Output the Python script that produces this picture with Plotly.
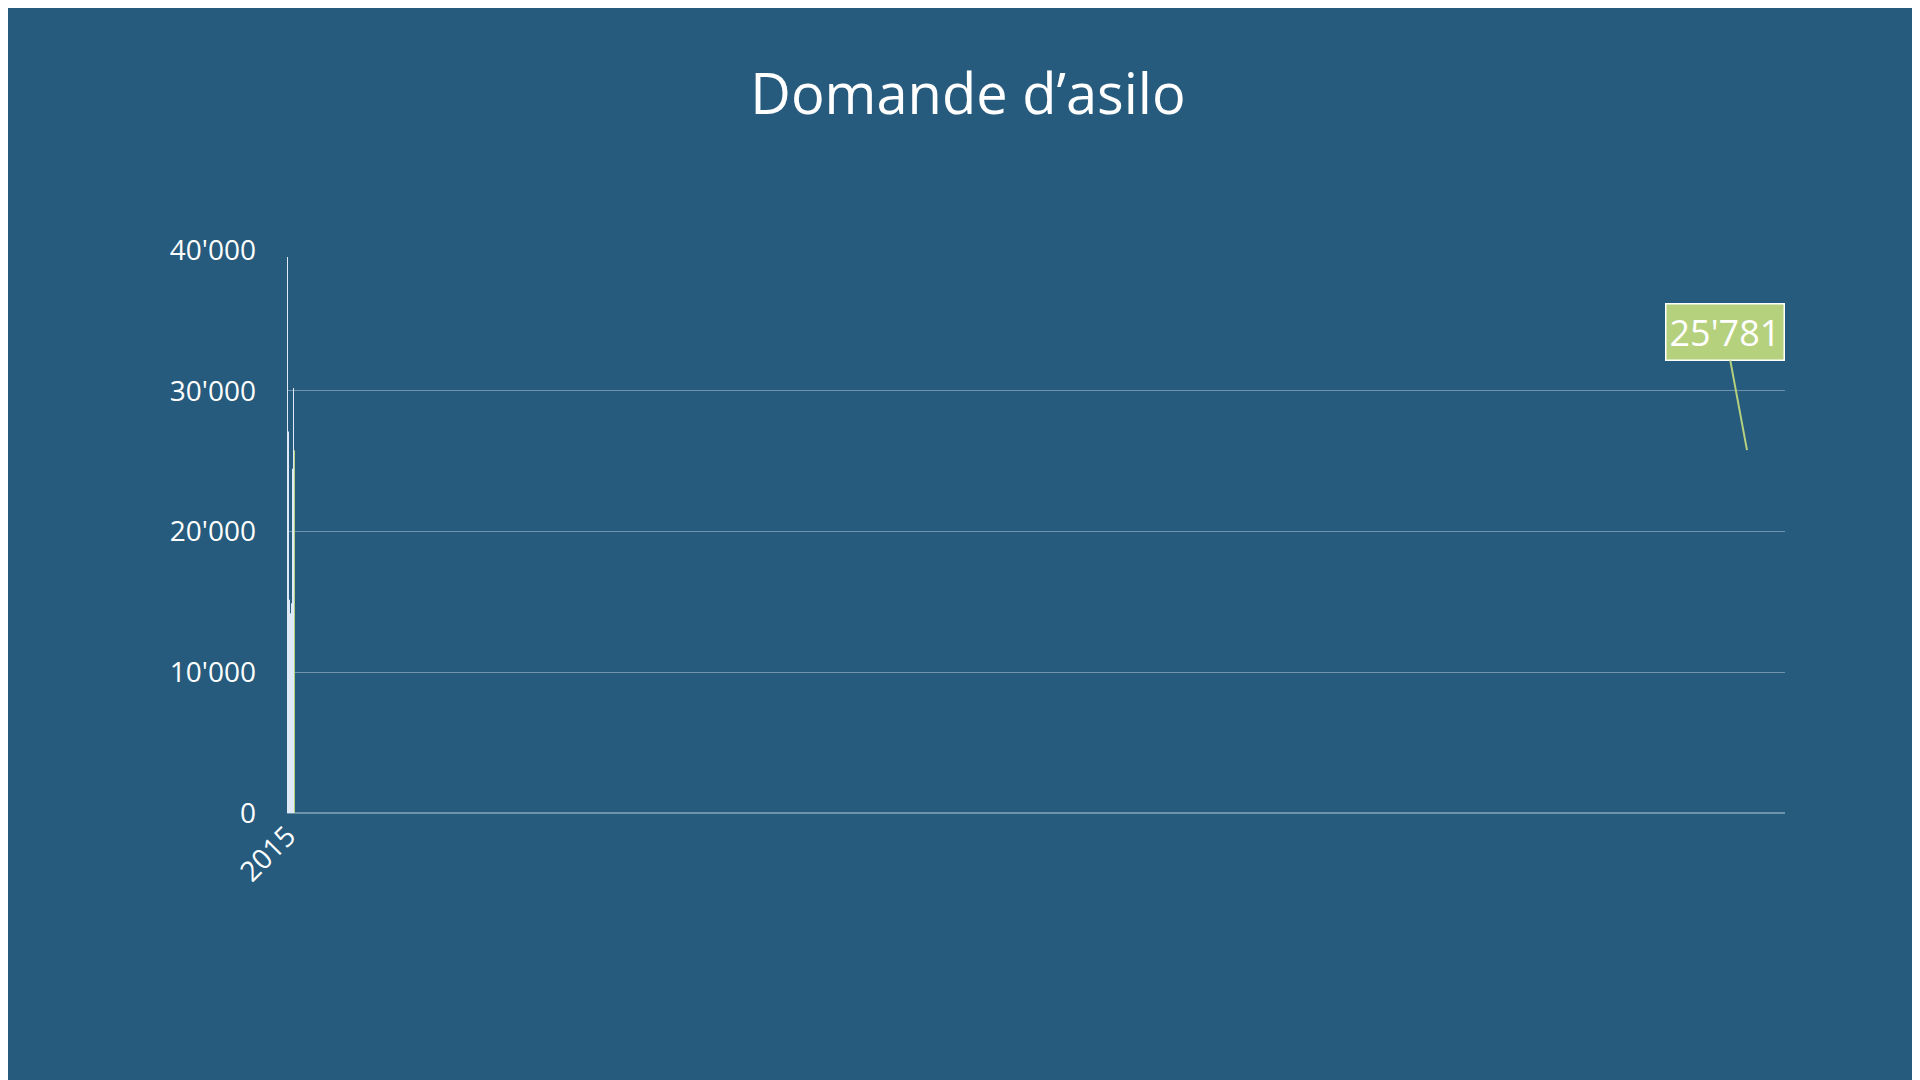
import plotly.graph_objects as go

anni = ["2015", "2016", "2017", "2018", "2019", "2020", "2021", "2022", "2023", "2024", "2025"]
domande = [39500, 27100, 18050, 15150, 14200, 10980, 14900, 24450, 30200, 27650, 25781]
tick_vals = [0, 10000, 20000, 30000, 40000]
tick_text = ["0", "10'000", "20'000", "30'000", "40'000"]

sfondo = "#265b7d"
colori = ["#dfeaf6"] * (len(anni) - 1) + ["#b5d17d"]

fig = go.Figure(go.Bar(x=anni, y=domande, marker_color=colori, marker_line_width=0, width=0.31))

fig.add_annotation(
    x=anni[-1], y=domande[-1], text="25'781", showarrow=True, arrowhead=0,
    arrowcolor="#b5d17d", arrowwidth=2, ax=-22, ay=-118,
    bgcolor="#b5d17d", bordercolor="white", borderwidth=1.5, borderpad=3,
    font=dict(size=36, color="white"),
)

fig.update_layout(
    width=1920, height=1080,
    paper_bgcolor=sfondo, plot_bgcolor=sfondo,
    font=dict(family="Open Sans", color="white", size=28),
    title=dict(text="Domande d’asilo", x=0.5, xanchor="center", y=0.92, yanchor="middle",
               font=dict(size=56, color="white")),
    margin=dict(l=279, r=143, t=242, b=275),
    showlegend=False,
    xaxis=dict(type="category", tickangle=-45, showgrid=False, showline=False, ticks=""),
    yaxis=dict(range=[0, 40000], tickvals=tick_vals, ticktext=tick_text,
               gridcolor="#6f93ab", gridwidth=1, zeroline=True, zerolinecolor="#6f93ab",
               ticks="", ticklabelstandoff=30),
)

fig.write_html("out.html")
